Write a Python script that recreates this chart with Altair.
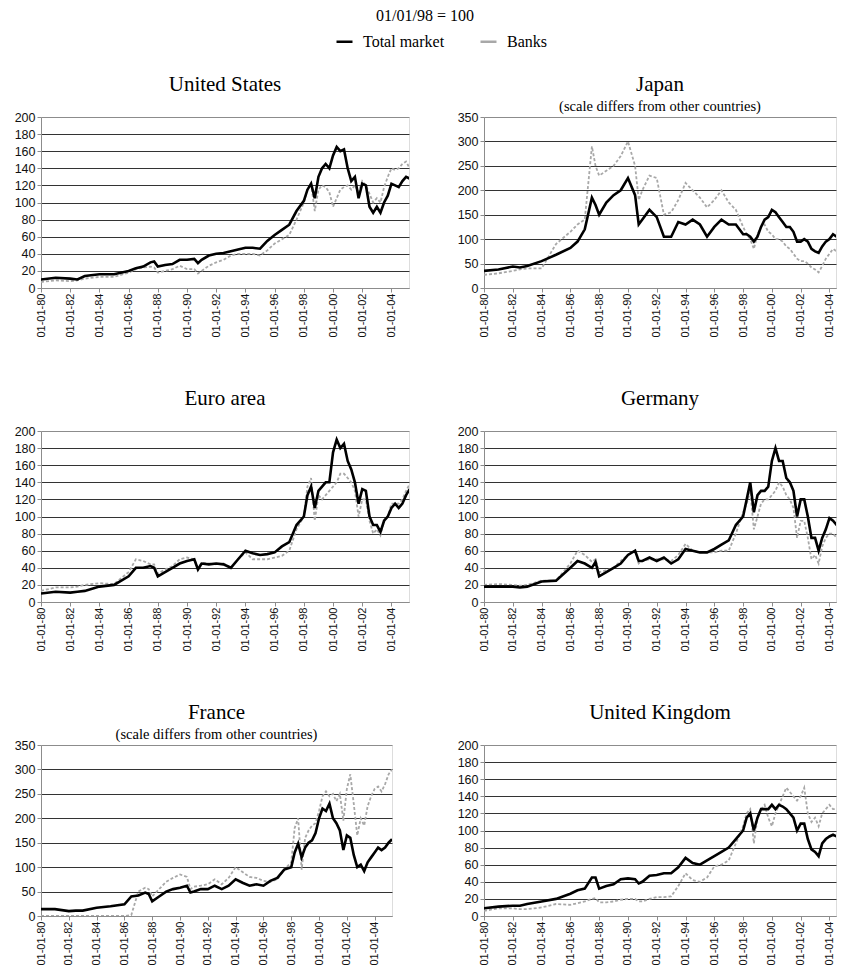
import altair as alt
import pandas as pd

# ---------------- data ----------------
dates = [
    "1980-01-01", "1981-01-01", "1982-01-01", "1982-07-01", "1983-01-01",
    "1984-01-01", "1985-01-01", "1986-01-01", "1986-07-01", "1987-01-01",
    "1987-07-01", "1987-10-01", "1988-01-01", "1988-07-01", "1989-01-01",
    "1989-07-01", "1990-01-01", "1990-07-01", "1990-10-01", "1991-01-01",
    "1991-07-01", "1992-01-01", "1992-07-01", "1993-01-01", "1993-07-01",
    "1994-01-01", "1994-07-01", "1995-01-01", "1995-07-01", "1996-01-01",
    "1996-07-01", "1997-01-01", "1997-07-01",
    "1998-01-01", "1998-04-01", "1998-07-01", "1998-10-01",
    "1999-01-01", "1999-04-01", "1999-07-01", "1999-10-01",
    "2000-01-01", "2000-04-01", "2000-07-01", "2000-10-01",
    "2001-01-01", "2001-04-01", "2001-07-01", "2001-10-01",
    "2002-01-01", "2002-04-01", "2002-07-01", "2002-10-01",
    "2003-01-01", "2003-04-01", "2003-07-01", "2003-10-01",
    "2004-01-01", "2004-04-01", "2004-07-01", "2004-10-01",
    "2005-01-01", "2005-04-01",
]

us_total = [10, 12, 11, 10, 14, 16, 16, 20, 23, 25, 30, 31, 25, 27, 28, 33, 33, 34, 29, 33,
            38, 40, 41, 43, 45, 47, 47, 46, 55, 62, 68, 74, 90, 102, 115, 122, 105, 130, 140, 145,
            140, 155, 165, 160, 162, 140, 125, 130, 105, 122, 120, 95, 88, 95, 88, 100, 108, 122, 120, 118,
            125, 130, 128]
us_banks = [7, 9, 8, 9, 11, 13, 13, 18, 22, 24, 25, 24, 18, 20, 22, 26, 22, 22, 17, 20,
            26, 30, 33, 38, 40, 40, 40, 38, 44, 52, 57, 62, 80, 100, 115, 122, 90, 115, 120, 118,
            112, 95, 105, 115, 118, 120, 115, 120, 112, 125, 120, 110, 100, 105, 100, 118, 130, 140, 138, 140,
            145, 148, 140]

jp_total = [35, 38, 44, 42, 45, 55, 68, 82, 95, 120, 185, 170, 150, 175, 190, 200, 225, 190, 130, 140,
            160, 145, 105, 105, 135, 130, 140, 130, 105, 125, 140, 130, 130, 110, 110, 105, 95, 105, 125, 140,
            145, 160, 155, 145, 135, 125, 125, 115, 95, 95, 100, 95, 80, 75, 72, 85, 95, 100, 110, 105,
            100, 100, 100]
jp_banks = [27, 30, 35, 38, 40, 40, 90, 115, 130, 140, 290, 250, 230, 240, 250, 270, 300, 250, 180, 200,
            230, 225, 150, 155, 180, 215, 200, 185, 165, 180, 200, 175, 160, 125, 110, 100, 80, 110, 125, 130,
            115, 110, 100, 100, 95, 85, 80, 70, 60, 55, 55, 50, 42, 38, 32, 45, 60, 70, 80, 75,
            72, 70, 70]

ea_total = [10, 12, 11, 12, 13, 18, 20, 30, 40, 40, 42, 40, 30, 35, 40, 45, 48, 50, 38, 45,
            44, 45, 44, 40, 50, 60, 57, 55, 56, 58, 65, 70, 90, 100, 125, 135, 110, 130, 135, 140,
            140, 175, 190, 180, 185, 165, 155, 140, 115, 132, 130, 100, 90, 90, 82, 95, 100, 110, 115, 110,
            115, 125, 132]
ea_banks = [13, 17, 17, 18, 20, 22, 21, 35, 50, 48, 44, 44, 33, 38, 42, 50, 52, 50, 40, 46,
            45, 44, 45, 40, 50, 58, 50, 50, 50, 52, 54, 60, 85, 100, 135, 145, 95, 125, 120, 125,
            130, 135, 140, 150, 150, 145, 140, 130, 100, 120, 120, 95, 80, 85, 78, 95, 100, 115, 115, 115,
            120, 130, 138]

de_total = [18, 18, 18, 17, 18, 24, 25, 40, 48, 45, 40, 47, 30, 35, 40, 45, 55, 60, 48, 48,
            52, 48, 52, 45, 50, 62, 60, 58, 58, 62, 67, 72, 90, 100, 120, 140, 105, 125, 130, 130,
            135, 165, 180, 165, 165, 145, 140, 130, 100, 120, 120, 100, 75, 75, 60, 75, 85, 98, 95, 90,
            95, 98, 98]
de_banks = [20, 21, 20, 19, 20, 25, 25, 45, 60, 55, 47, 50, 35, 37, 40, 48, 55, 60, 45, 48,
            50, 50, 50, 48, 55, 68, 60, 58, 58, 58, 60, 60, 80, 105, 115, 130, 85, 100, 115, 120,
            120, 125, 130, 140, 135, 125, 120, 110, 75, 95, 95, 75, 50, 55, 45, 65, 75, 80, 80, 75,
            78, 80, 80]

fr_total = [14, 14, 10, 11, 11, 17, 20, 24, 40, 42, 48, 45, 30, 40, 50, 55, 58, 62, 48, 50,
            55, 55, 62, 55, 62, 75, 68, 62, 65, 62, 72, 78, 95, 100, 130, 148, 120, 140, 150, 155,
            170, 200, 220, 215, 230, 200, 190, 175, 135, 165, 160, 125, 100, 105, 92, 110, 120, 130, 140, 135,
            140, 150, 157]
fr_banks = [0, 0, 0, 0, 0, 0, 0, 0, 2, 50, 58, 55, 40, 55, 70, 78, 85, 80, 55, 60,
            62, 65, 75, 65, 78, 100, 90, 80, 78, 72, 70, 75, 95, 110, 180, 200, 95, 160, 175, 185,
            190, 215, 245, 255, 245, 250, 235, 250, 195, 260, 290, 230, 165, 200, 185, 225, 245, 260, 265, 255,
            270, 290, 300]

uk_total = [9, 11, 12, 12, 14, 17, 20, 26, 30, 32, 45, 45, 32, 35, 37, 43, 44, 43, 38, 40,
            47, 48, 50, 50, 57, 68, 62, 60, 65, 70, 75, 80, 90, 100, 115, 120, 100, 115, 125, 125,
            125, 130, 125, 130, 128, 125, 120, 115, 100, 108, 108, 90, 78, 75, 70, 85, 90, 93, 95, 93,
            95, 100, 102]
uk_banks = [6, 9, 9, 8, 8, 10, 14, 13, 15, 17, 20, 21, 16, 16, 17, 19, 20, 20, 17, 17,
            20, 22, 22, 23, 35, 50, 42, 40, 45, 58, 60, 65, 85, 105, 120, 125, 85, 115, 125, 130,
            115, 105, 120, 130, 140, 150, 145, 140, 135, 140, 150, 120, 110, 115, 105, 120, 125, 130, 125, 125,
            120, 130, 132]

series_names = ["Total market", "Banks"]
series_colors = ["#000000", "#a8a8a8"]
tick_years = list(range(1980, 2005, 2))
scale_note = "(scale differs from other countries)"

# ---------------- styling ----------------
SERIF = "Liberation Serif"
SANS = "Liberation Sans"
AXIS_GRAY = "#8c8c8c"
PLOT_H = 171


def dt(y, m, d):
    return alt.DateTime(year=y, month=m, date=d, utc=True)


def make_panel(name, subtitle, total, banks, ymax, ystep, x_end, width):
    n = len(dates)
    df = pd.DataFrame({
        "date": dates + dates,
        "series": ["Total market"] * n + ["Banks"] * n,
        "value": list(total) + list(banks),
    })
    x_enc = alt.X(
        "date:T",
        scale=alt.Scale(type="utc", domain=[dt(1980, 1, 1), dt(*x_end)]),
        axis=alt.Axis(
            values=[dt(y, 1, 1) for y in tick_years],
            format="%d-%m-%y",
            labelAngle=270,
            labelFont=SANS, labelFontSize=11, labelColor="#111111",
            labelPadding=1, labelOverlap=False, labelFlush=False,
            grid=False, domainColor=AXIS_GRAY, tickColor=AXIS_GRAY, tickSize=4,
            title=None,
        ),
    )
    y_enc = alt.Y(
        "value:Q",
        scale=alt.Scale(domain=[0, ymax], nice=False),
        axis=alt.Axis(
            values=list(range(0, ymax + 1, ystep)),
            labelFont=SANS, labelFontSize=12.5, labelColor="#111111", labelPadding=2,
            domainColor=AXIS_GRAY, tickColor=AXIS_GRAY, tickSize=4,
            gridColor={"condition": {"test": f"datum.value >= {ymax} || datum.value <= 0",
                                     "value": AXIS_GRAY},
                       "value": "#333333"},
            gridWidth=1,
            title=None,
        ),
    )
    color = alt.Color(
        "series:N",
        scale=alt.Scale(domain=series_names, range=series_colors),
        legend=alt.Legend(
            orient="none", legendX=294, legendY=-85, direction="horizontal",
            title=None, symbolType="stroke", symbolSize=256, symbolStrokeWidth=2.5,
            labelFont=SERIF, labelFontSize=16, labelColor="#000000",
            labelOffset=9, columnPadding=30,
        ),
    )
    base = alt.Chart(df)
    banks_layer = base.transform_filter(alt.datum.series == "Banks").mark_line(
        strokeWidth=1.8, strokeDash=[3, 2], clip=True
    ).encode(x=x_enc, y=y_enc, color=color)
    total_layer = base.transform_filter(alt.datum.series == "Total market").mark_line(
        strokeWidth=2.6, clip=True
    ).encode(x=x_enc, y=y_enc, color=color)

    if subtitle:
        title = alt.TitleParams(
            text=name, subtitle=subtitle, font=SERIF, fontSize=21, fontWeight="normal",
            color="#000000", subtitleFont=SERIF, subtitleFontSize=14.5, subtitleColor="#000000",
            subtitleFontWeight="normal", subtitlePadding=5, anchor="middle", offset=-2,
        )
    else:
        title = alt.TitleParams(
            text=name, font=SERIF, fontSize=21, fontWeight="normal", color="#000000",
            anchor="middle", offset=16,
        )
    return alt.layer(banks_layer, total_layer).properties(width=width, height=PLOT_H, title=title)


panels = [
    make_panel("United States", None, us_total, us_banks, 200, 20, (2005, 3, 15), 368),
    make_panel("Japan", scale_note, jp_total, jp_banks, 350, 50, (2004, 6, 15), 352),
    make_panel("Euro area", None, ea_total, ea_banks, 200, 20, (2005, 3, 15), 368),
    make_panel("Germany", None, de_total, de_banks, 200, 20, (2004, 6, 15), 352),
    make_panel("France", scale_note, fr_total, fr_banks, 350, 50, (2005, 4, 1), 351),
    make_panel("United Kingdom", None, uk_total, uk_banks, 200, 20, (2004, 6, 15), 352),
]

chart = alt.concat(
    *panels,
    columns=2,
    spacing=alt.RowColnumber(row=143, column=75),
    bounds="flush",
).properties(
    title=alt.TitleParams(
        text="01/01/98 = 100", font=SERIF, fontSize=16, fontWeight="normal",
        color="#000000", anchor="middle", offset=8,
    ),
    padding={"left": 5, "top": 0, "right": 0, "bottom": 0},
).configure_view(
    stroke=AXIS_GRAY, strokeWidth=1
).configure_title(
    fontWeight="normal", subtitleFontWeight="normal"
).configure(
    background="#ffffff"
)

chart.save("out.html", embed_options={"renderer": "svg", "actions": False})
